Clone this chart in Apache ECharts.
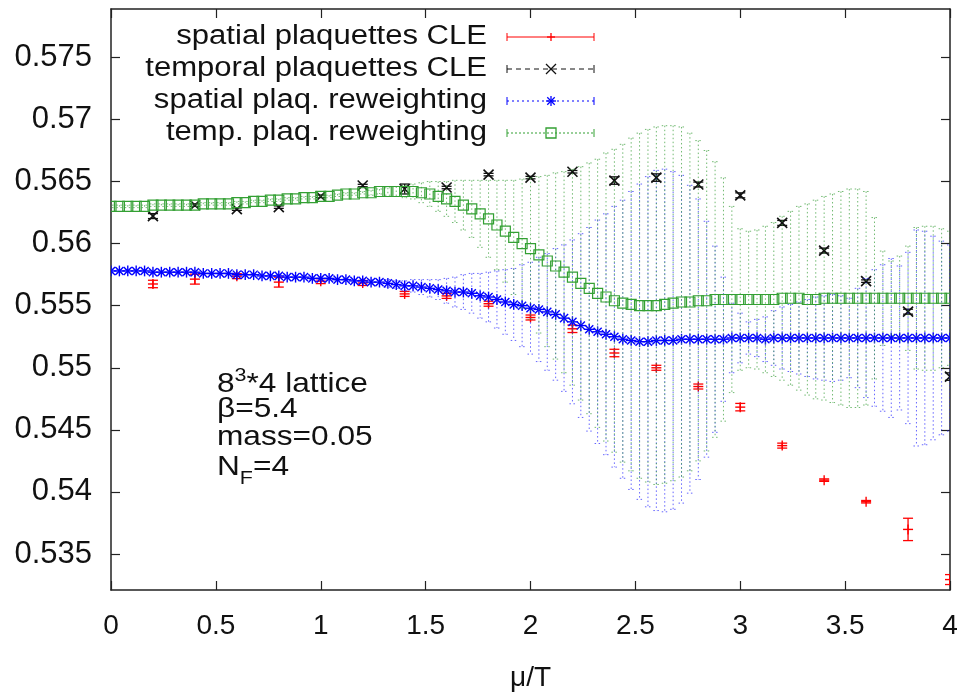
<!DOCTYPE html>
<html>
<head>
<meta charset="utf-8">
<script src="https://cdn.jsdelivr.net/npm/echarts@6/dist/echarts.min.js"></script>
<style>
  html, body { margin: 0; padding: 0; background: #fff; }
  #chart { width: 961px; height: 697px; }
</style>
</head>
<body>
<div id="chart"></div>
<script>
// CLE points, every 0.2 in mu/T
const muCLE = [0.2, 0.4, 0.6, 0.8, 1.0, 1.2, 1.4, 1.6, 1.8, 2.0, 2.2, 2.4, 2.6, 2.8, 3.0, 3.2, 3.4, 3.6, 3.8, 4.0]
const spatialCLE = [0.55675, 0.55714, 0.55738, 0.55690, 0.55698, 0.55683, 0.55595, 0.55579, 0.55516, 0.55405,
  0.55314, 0.55119, 0.55000, 0.54849, 0.54683, 0.54373, 0.54095, 0.53921, 0.53698, 0.53294]
const spatialCLEErr = [0.0003, 0.0004, 0.0002, 0.0004, 0.0002, 0.0002, 0.0002, 0.0002, 0.0002, 0.0002,
  0.0003, 0.0003, 0.0002, 0.0002, 0.0003, 0.0002, 0.0001, 0.0001, 0.0009, 0.0004]
const temporalCLE = [0.56222, 0.56310, 0.56278, 0.56294, 0.56381, 0.56468, 0.56440, 0.56452, 0.56556, 0.56532,
  0.56579, 0.56508, 0.56532, 0.56476, 0.56389, 0.56167, 0.55944, 0.55698, 0.55452, 0.54929]
const temporalCLEErr = [0.0002, 0.0001, 0.0001, 0.0001, 0.0001, 0.0001, 0.0004, 0.0001, 0.0001, 0.0001,
  0.0001, 0.0003, 0.0003, 0.0002, 0.0002, 0.0002, 0.0002, 0.0001, 0.0002, 0.0003]

// reweighting curves, every 0.04 in mu/T
const muRW = [0.00, 0.04, 0.08, 0.12, 0.16, 0.20, 0.24, 0.28, 0.32, 0.36,
  0.40, 0.44, 0.48, 0.52, 0.56, 0.60, 0.64, 0.68, 0.72, 0.76,
  0.80, 0.84, 0.88, 0.92, 0.96, 1.00, 1.04, 1.08, 1.12, 1.16,
  1.20, 1.24, 1.28, 1.32, 1.36, 1.40, 1.44, 1.48, 1.52, 1.56,
  1.60, 1.64, 1.68, 1.72, 1.76, 1.80, 1.84, 1.88, 1.92, 1.96,
  2.00, 2.04, 2.08, 2.12, 2.16, 2.20, 2.24, 2.28, 2.32, 2.36,
  2.40, 2.44, 2.48, 2.52, 2.56, 2.60, 2.64, 2.68, 2.72, 2.76,
  2.80, 2.84, 2.88, 2.92, 2.96, 3.00, 3.04, 3.08, 3.12, 3.16,
  3.20, 3.24, 3.28, 3.32, 3.36, 3.40, 3.44, 3.48, 3.52, 3.56,
  3.60, 3.64, 3.68, 3.72, 3.76, 3.80, 3.84, 3.88, 3.92, 3.96, 4.00]
const spatialRW = [0.5578, 0.5578, 0.5578, 0.5578, 0.5578, 0.5577, 0.5577, 0.5577, 0.5577, 0.5577,
  0.5577, 0.5576, 0.5576, 0.5576, 0.5576, 0.5575, 0.5575, 0.5575, 0.5574, 0.5574,
  0.5574, 0.5573, 0.5573, 0.5573, 0.5572, 0.5572, 0.5572, 0.5571, 0.5571, 0.5570,
  0.5570, 0.5569, 0.5569, 0.5568, 0.5567, 0.5566, 0.5566, 0.5565, 0.5564, 0.5563,
  0.5562, 0.5561, 0.5561, 0.5560, 0.5558, 0.5557, 0.5555, 0.5553, 0.5551, 0.5550,
  0.5548, 0.5547, 0.5545, 0.5543, 0.5540, 0.5537, 0.5534, 0.5531, 0.5529, 0.5527,
  0.5525, 0.5523, 0.5522, 0.5521, 0.5521, 0.5522, 0.5522, 0.5522, 0.5523, 0.5523,
  0.5523, 0.5523, 0.5523, 0.5523, 0.5524, 0.5524, 0.5524, 0.5524, 0.5523, 0.5524,
  0.5524, 0.5524, 0.5524, 0.5524, 0.5524, 0.5524, 0.5524, 0.5524, 0.5524, 0.5524,
  0.5524, 0.5524, 0.5524, 0.5524, 0.5524, 0.5524, 0.5524, 0.5524, 0.5524, 0.5524, 0.5524]
const spatialRWErr = [0.0001, 0.0001, 0.0001, 0.0001, 0.0001, 0.0001, 0.0001, 0.0001, 0.0001, 0.0001,
  0.0001, 0.0001, 0.0001, 0.0001, 0.0001, 0.0001, 0.0001, 0.0001, 0.0001, 0.0001,
  0.0001, 0.0001, 0.0001, 0.0001, 0.0001, 0.0001, 0.0001, 0.0001, 0.0001, 0.0001,
  0.0001, 0.0002, 0.0002, 0.0003, 0.0003, 0.0004, 0.0005, 0.0006, 0.0007, 0.0008,
  0.0010, 0.0012, 0.0014, 0.0016, 0.0018, 0.0020, 0.0023, 0.0026, 0.0029, 0.0033,
  0.0037, 0.0042, 0.0047, 0.0053, 0.0059, 0.0066, 0.0074, 0.0082, 0.0090, 0.0097,
  0.0105, 0.0112, 0.0120, 0.0127, 0.0133, 0.0137, 0.0138, 0.0136, 0.0132, 0.0124,
  0.0113, 0.0095, 0.0075, 0.0050, 0.0028, 0.0020, 0.0013, 0.0015, 0.0018, 0.0022,
  0.0025, 0.0027, 0.0029, 0.0031, 0.0033, 0.0034, 0.0035, 0.0034, 0.0032, 0.0040,
  0.0048, 0.0055, 0.0059, 0.0064, 0.0058, 0.0069, 0.0087, 0.0086, 0.0082, 0.0078, 0.0075]
const temporalRW = [0.5630, 0.5630, 0.5630, 0.5630, 0.5630, 0.5631, 0.5631, 0.5631, 0.5631, 0.5631,
  0.5631, 0.5632, 0.5632, 0.5632, 0.5632, 0.5633, 0.5633, 0.5634, 0.5634, 0.5635,
  0.5635, 0.5636, 0.5636, 0.5637, 0.5637, 0.5638, 0.5638, 0.5639, 0.5640, 0.5640,
  0.5641, 0.5641, 0.5642, 0.5642, 0.5642, 0.5642, 0.5642, 0.5641, 0.5640, 0.5638,
  0.5636, 0.5634, 0.5631, 0.5628, 0.5624, 0.5620, 0.5615, 0.5610, 0.5605, 0.5600,
  0.5596, 0.5591, 0.5586, 0.5582, 0.5577, 0.5573, 0.5568, 0.5564, 0.5560, 0.5557,
  0.5554, 0.5552, 0.5551, 0.5550, 0.5550, 0.5550, 0.5551, 0.5552, 0.5553, 0.5553,
  0.5554, 0.5554, 0.5555, 0.5555, 0.5555, 0.5555, 0.5555, 0.5555, 0.5555, 0.5555,
  0.5556, 0.5556, 0.5556, 0.5555, 0.5555, 0.5556, 0.5556, 0.5556, 0.5556, 0.5556,
  0.5556, 0.5556, 0.5556, 0.5556, 0.5556, 0.5556, 0.5556, 0.5556, 0.5556, 0.5556, 0.5556]
const temporalRWErr = [0.0001, 0.0001, 0.0001, 0.0001, 0.0001, 0.0001, 0.0001, 0.0001, 0.0001, 0.0001,
  0.0001, 0.0001, 0.0001, 0.0001, 0.0001, 0.0001, 0.0001, 0.0001, 0.0001, 0.0001,
  0.0001, 0.0001, 0.0001, 0.0001, 0.0001, 0.0001, 0.0001, 0.0001, 0.0001, 0.0001,
  0.0001, 0.0002, 0.0002, 0.0003, 0.0004, 0.0005, 0.0006, 0.0008, 0.0010, 0.0012,
  0.0014, 0.0017, 0.0020, 0.0023, 0.0027, 0.0031, 0.0036, 0.0041, 0.0046, 0.0052,
  0.0057, 0.0063, 0.0069, 0.0075, 0.0081, 0.0087, 0.0094, 0.0101, 0.0108, 0.0116,
  0.0122, 0.0128, 0.0134, 0.0139, 0.0142, 0.0144, 0.0144, 0.0143, 0.0141, 0.0136,
  0.0129, 0.0121, 0.0111, 0.0098, 0.0075, 0.0057, 0.0055, 0.0056, 0.0059, 0.0062,
  0.0066, 0.0070, 0.0074, 0.0077, 0.0080, 0.0082, 0.0084, 0.0086, 0.0088, 0.0088,
  0.0086, 0.0065, 0.0038, 0.0030, 0.0034, 0.0042, 0.0057, 0.0058, 0.0058, 0.0056, 0.0054]

const yTicks = [0.535, 0.54, 0.545, 0.55, 0.555, 0.56, 0.565, 0.57, 0.575]

const RED = '#ff0000'
const BLACK = '#111111'
const BLUE = '#0000ff'
const GREEN = '#33a033'
const FONT = "'Liberation Sans', Arial, sans-serif"
const NARROW = "'Liberation Sans Narrow', 'Liberation Sans', Arial, sans-serif"

// marker shapes drawn around a pixel point
const marker = (kind, cx, cy, r, color, lw) => {
  const st = { stroke: color, lineWidth: lw || 1.2, fill: null }
  const ln = (x1, y1, x2, y2) => ({ type: 'line', shape: { x1, y1, x2, y2 }, style: st })
  if (kind === 'plus') return [ln(cx - r, cy, cx + r, cy), ln(cx, cy - r, cx, cy + r)]
  if (kind === 'cross') return [ln(cx - r, cy - r, cx + r, cy + r), ln(cx - r, cy + r, cx + r, cy - r)]
  if (kind === 'star') {
    const d = r * 0.75
    return [ln(cx - r, cy, cx + r, cy), ln(cx, cy - r, cx, cy + r),
      ln(cx - d, cy - d, cx + d, cy + d), ln(cx - d, cy + d, cx + d, cy - d)]
  }
  if (kind === 'square') {
    return [{ type: 'rect', shape: { x: cx - r, y: cy - r, width: 2 * r, height: 2 * r },
      style: { stroke: color, lineWidth: lw || 1, fill: 'rgba(255,255,255,0)' } }]
  }
  return []
}

const errorSeries = (name, xs, ys, es, o) => ({
  name,
  type: 'custom',
  clip: true,
  z: o.z,
  data: xs.map((x, i) => [x, ys[i], es[i]]),
  encode: { x: 0, y: 1 },
  renderItem: (params, api) => {
    const x = api.value(0)
    const y = api.value(1)
    const e = api.value(2)
    const c = api.coord([x, y])
    const t = api.coord([x, y + e])
    const b = api.coord([x, y - e])
    const st = { stroke: o.barColor || o.color, lineWidth: o.barWidth || 1, lineDash: o.dash || null }
    const h = o.cap
    return {
      type: 'group',
      children: [
        { type: 'line', shape: { x1: c[0], y1: t[1], x2: c[0], y2: b[1] }, style: st },
        { type: 'line', shape: { x1: c[0] - h, y1: t[1], x2: c[0] + h, y2: t[1] }, style: st },
        { type: 'line', shape: { x1: c[0] - h, y1: b[1], x2: c[0] + h, y2: b[1] }, style: st },
        ...marker(o.marker, c[0], c[1], o.size, o.color, o.markWidth),
      ],
    }
  },
})

// legend drawn as graphics: text right-aligned, sample line to the right
const legendRows = [
  { text: 'spatial plaquettes CLE', color: RED, dash: null, marker: 'plus', size: 4, y: 37 },
  { text: 'temporal plaquettes CLE', color: BLACK, dash: [5, 4], marker: 'cross', size: 5, y: 69 },
  { text: 'spatial plaq. reweighting', color: BLUE, dash: [2, 3], marker: 'star', size: 5, y: 101 },
  { text: 'temp. plaq. reweighting', color: GREEN, dash: [2, 2], marker: 'square', size: 5, y: 133 },
]
const legendGraphics = []
legendRows.forEach((r) => {
  legendGraphics.push({
    type: 'text', x: 487, y: r.y, scaleX: 1.15,
    style: { text: r.text, x: 0, y: 0, align: 'right', verticalAlign: 'middle',
      font: '27px ' + FONT, fill: '#111' },
  })
  const st = { stroke: r.color, lineWidth: 1, lineDash: r.dash }
  legendGraphics.push({ type: 'line', shape: { x1: 507, y1: r.y, x2: 594, y2: r.y }, style: st })
  legendGraphics.push({ type: 'line', shape: { x1: 507, y1: r.y - 4, x2: 507, y2: r.y + 4 }, style: { stroke: r.color, lineWidth: 1 } })
  legendGraphics.push({ type: 'line', shape: { x1: 594, y1: r.y - 4, x2: 594, y2: r.y + 4 }, style: { stroke: r.color, lineWidth: 1 } })
  marker(r.marker, 551, r.y, r.size, r.color, 1.3).forEach((m) => legendGraphics.push(m))
})

const noteStyle = (text, y, rich) => ({
  type: 'text', x: 217, y, scaleX: 1.13,
  style: { text, x: 0, y: 0, align: 'left', verticalAlign: 'middle', font: '28px ' + FONT, fill: '#111', rich },
})
const noteGraphics = [
  noteStyle('{b|8}{sup|3}{b|*4 lattice}', 381, {
    b: { fontSize: 28, fontFamily: FONT, lineHeight: 30, verticalAlign: 'top', padding: [4, 0, 0, 0] },
    sup: { fontSize: 19, fontFamily: FONT, lineHeight: 20, verticalAlign: 'top' },
  }),
  noteStyle('β=5.4', 409),
  noteStyle('mass=0.05', 437),
  noteStyle('{b|N}{sub|F}{b|=4}', 468, {
    b: { fontSize: 28, fontFamily: FONT, lineHeight: 30, verticalAlign: 'top' },
    sub: { fontSize: 19, fontFamily: FONT, lineHeight: 20, verticalAlign: 'top', padding: [16, 0, 0, 0] },
  }),
]

const axisLine = { show: true, onZero: false, lineStyle: { color: '#222', width: 1.5 } }
const axisTick = { show: true, inside: true, length: 9, lineStyle: { color: '#222', width: 1.2 } }

const chart = echarts.init(document.getElementById('chart'), null, { renderer: 'canvas' })
chart.setOption({
  animation: false,
  backgroundColor: '#fff',
  grid: { left: 111, right: 11, top: 9, bottom: 98, show: false },
  xAxis: [
    {
      type: 'value', min: 0, max: 4, interval: 0.5, position: 'bottom',
      axisLine, axisTick, splitLine: { show: false },
      axisLabel: { fontFamily: NARROW, fontSize: 28, color: '#111', margin: 22, showMinLabel: true, showMaxLabel: true },
      name: 'μ/T', nameLocation: 'middle', nameGap: 74,
      nameTextStyle: { fontFamily: NARROW, fontSize: 28, color: '#111' },
    },
    {
      type: 'value', min: 0, max: 4, interval: 0.5, position: 'top',
      axisLine, axisTick, splitLine: { show: false }, axisLabel: { show: false },
    },
  ],
  yAxis: [
    {
      type: 'value', min: 0.5321, max: 0.5789, position: 'left',
      axisLine, splitLine: { show: false },
      axisTick: { ...axisTick, customValues: yTicks },
      axisLabel: { customValues: yTicks, fontFamily: FONT, fontSize: 31, color: '#111', margin: 19 },
    },
    {
      type: 'value', min: 0.5321, max: 0.5789, position: 'right',
      axisLine, splitLine: { show: false },
      axisTick: { ...axisTick, customValues: yTicks },
      axisLabel: { show: false },
    },
  ],
  series: [
    errorSeries('spatial plaquettes CLE', muCLE, spatialCLE, spatialCLEErr,
      { color: RED, barWidth: 1.3, cap: 5, marker: 'plus', size: 5, markWidth: 1.4, z: 2 }),
    errorSeries('temporal plaquettes CLE', muCLE, temporalCLE, temporalCLEErr,
      { color: BLACK, barWidth: 1.3, cap: 5, marker: 'cross', size: 5, markWidth: 1.6, z: 3 }),
    errorSeries('spatial plaq. reweighting', muRW, spatialRW, spatialRWErr,
      { color: BLUE, barColor: 'rgba(30,30,255,0.68)', dash: [1.5, 2.5], cap: 3, marker: 'star', size: 5.4, markWidth: 1.4, z: 4 }),
    errorSeries('temp. plaq. reweighting', muRW, temporalRW, temporalRWErr,
      { color: GREEN, barColor: 'rgba(60,160,60,0.72)', dash: [1.5, 2.5], cap: 3, marker: 'square', size: 5, markWidth: 1.2, z: 5 }),
  ],
  graphic: [...legendGraphics, ...noteGraphics],
})

window.addEventListener('resize', () => chart.resize())
</script>
</body>
</html>
